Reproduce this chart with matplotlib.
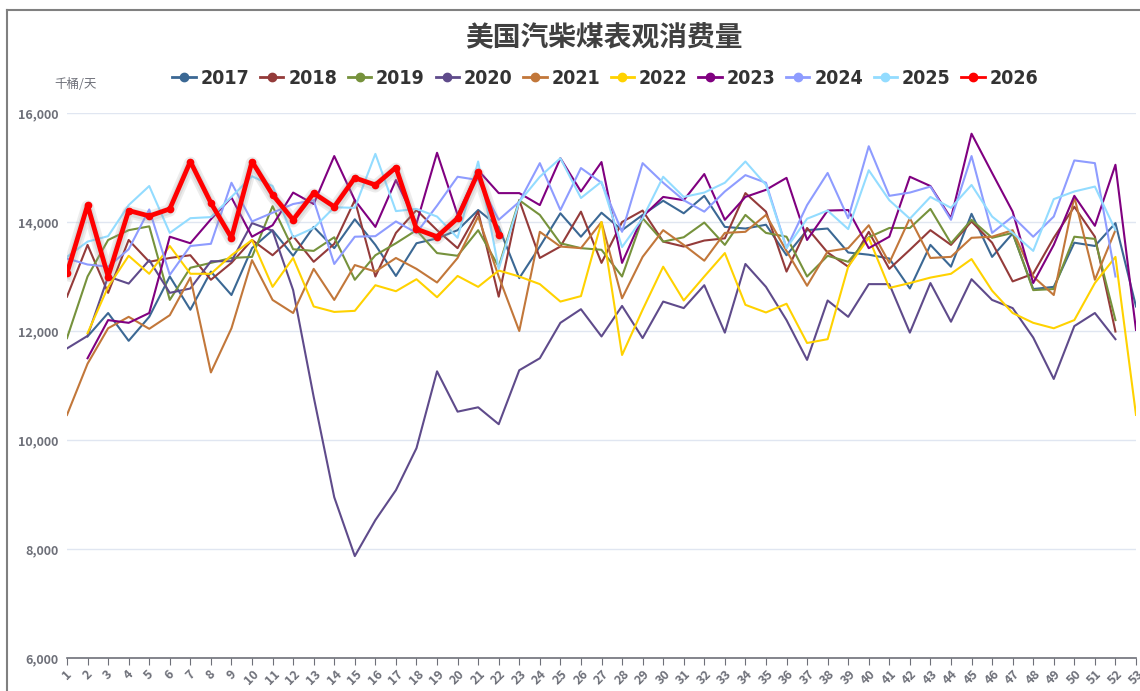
import numpy as np
import matplotlib
matplotlib.use("Agg")
import matplotlib.pyplot as plt
import matplotlib.patheffects as pe
from matplotlib.lines import Line2D

plt.rcParams['font.family'] = ['Noto Sans CJK SC', 'DejaVu Sans']

nan = np.nan
weeks = list(range(1, 54))

y2017 = [nan, 11900, 12330, 11820, 12260, 13000, 12390, 13090, 12660, 13520, 13850, 13380, 13910, 13520, 14050, 13580, 13010, 13610, 13700, 13850, 14220, 13910, 12970, 13550, 14160, 13730, 14170, 13850, 14130, 14390, 14160, 14480, 13910, 13880, 13950, 13390, 13850, 13880, 13440, 13400, 13330, 12780, 13580, 13180, 14150, 13360, 13790, 12770, 12810, 13620, 13560, 13980, 12450]
y2018 = [12630, 13580, 12700, 13670, 13270, 13340, 13390, 12940, 13250, 13670, 13390, 13740, 13270, 13600, 14400, 13000, 13800, 14220, 13850, 13520, 14190, 12630, 14400, 13340, 13550, 14190, 13250, 14000, 14210, 13640, 13550, 13660, 13700, 14530, 14190, 13090, 13890, 13440, 13180, 13820, 13140, 13490, 13850, 13580, 14010, 13620, 12910, 13050, 13710, 14280, 13730, 11990, nan]
y2019 = [11870, 13000, 13670, 13850, 13920, 12570, 13160, 13250, 13340, 13360, 14290, 13500, 13470, 13720, 12940, 13390, 13610, 13850, 13430, 13380, 13850, 13180, 14400, 14130, 13610, 13520, 13490, 13000, 14070, 13640, 13720, 13990, 13580, 14130, 13800, 13730, 13000, 13380, 13270, 13720, 13890, 13890, 14240, 13610, 14040, 13710, 13800, 12750, 12770, 13730, 13690, 12200, nan]
y2020 = [11680, 11910, 13000, 12870, 13300, 12700, 12780, 13280, 13280, 13980, 13840, 12750, 10790, 8950, 7870, 8530, 9080, 9850, 11260, 10520, 10600, 10290, 11280, 11500, 12150, 12400, 11900, 12460, 11870, 12540, 12420, 12840, 11970, 13230, 12810, 12200, 11470, 12560, 12260, 12860, 12860, 11970, 12880, 12170, 12950, 12570, 12420, 11880, 11120, 12090, 12330, 11850, nan]
y2021 = [10460, 11400, 12050, 12260, 12040, 12290, 12980, 11240, 12050, 13300, 12570, 12330, 13140, 12570, 13210, 13090, 13340, 13140, 12890, 13340, 14100, 13000, 12000, 13820, 13550, 13520, 14000, 12600, 13360, 13850, 13580, 13290, 13800, 13820, 14130, 13470, 12830, 13460, 13520, 13940, 13250, 14070, 13340, 13360, 13710, 13730, 13850, 13000, 12660, 14460, 12940, 13850, nan]
y2022 = [nan, 11960, 12810, 13380, 13050, 13560, 13050, 13050, 13390, 13670, 12810, 13340, 12450, 12350, 12370, 12840, 12730, 12950, 12620, 13010, 12810, 13110, 13000, 12860, 12540, 12640, 14000, 11560, 12390, 13180, 12560, 13000, 13430, 12480, 12340, 12500, 11780, 11850, 13180, 13710, 12790, 12880, 12980, 13050, 13320, 12740, 12330, 12150, 12050, 12200, 12880, 13360, 10460]
y2023 = [nan, 11500, 12200, 12150, 12330, 13730, 13610, 14050, 14450, 13730, 13940, 14540, 14330, 15210, 14400, 13910, 14770, 13970, 15270, 14130, 14950, 14530, 14530, 14310, 15170, 14560, 15100, 13250, 14100, 14460, 14400, 14880, 14040, 14460, 14590, 14810, 13670, 14210, 14220, 13520, 13730, 14830, 14660, 14070, 15620, 14900, 14190, 12880, 13580, 14480, 13930, 15050, 12020]
y2024 = [13330, 13220, 13180, 13500, 14230, 13030, 13560, 13600, 14720, 14010, 14170, 14330, 14400, 13230, 13730, 13740, 14010, 13800, 14300, 14830, 14770, 14040, 14370, 15080, 14220, 14990, 14720, 13820, 15080, 14720, 14400, 14190, 14560, 14860, 14720, 13520, 14310, 14900, 14070, 15390, 14480, 14540, 14650, 14040, 15210, 13800, 14100, 13730, 14100, 15130, 15080, 13000, nan]
y2025 = [13360, 13640, 13740, 14310, 14660, 13800, 14070, 14090, 14460, 14840, 14660, 13720, 13890, 14270, 14260, 15250, 14200, 14240, 14100, 13710, 15110, 13140, 14370, 14830, 15170, 14440, 14740, 13540, 14070, 14830, 14460, 14540, 14720, 15110, 14680, 13520, 14060, 14210, 13870, 14950, 14400, 14060, 14460, 14260, 14680, 14100, 13800, 13470, 14420, 14560, 14650, 13850, nan]
y2026 = [13060, 14310, 13000, 14210, 14110, 14240, 15110, 14350, 13710, 15110, 14500, 14040, 14530, 14280, 14810, 14680, 15000, 13870, 13730, 14070, 14910, 13760] + [nan] * 31

years = ['2017', '2018', '2019', '2020', '2021', '2022', '2023', '2024', '2025', '2026']
series = [y2017, y2018, y2019, y2020, y2021, y2022, y2023, y2024, y2025, y2026]
colors = ['#3b6894', '#943b3a', '#76923c', '#5f4b8b', '#c2773a',
          '#ffd200', '#800080', '#8e9cff', '#93dcff', '#ff0000']

fig = plt.figure(figsize=(11.4, 6.91), dpi=100)
ax = fig.add_axes([67 / 1140, 1 - 658 / 691, (1136 - 67) / 1140, (658 - 113) / 691])

for yr, vals, c in zip(years, series, colors):
    if yr == '2026':
        ax.plot(weeks, vals, color=c, lw=3.4, zorder=10, solid_joinstyle='round',
                path_effects=[pe.SimpleLineShadow(offset=(0, -1), shadow_color='#999999', alpha=0.18, linewidth=9),
                              pe.SimpleLineShadow(offset=(0, -1), shadow_color='#999999', alpha=0.2, linewidth=6),
                              pe.Normal()])
        ax.plot(weeks, vals, color=c, lw=0, marker='o', ms=4.5, zorder=11)
    else:
        ax.plot(weeks, vals, color=c, lw=1.5, zorder=3)

ax.set_xlim(1, 53)
ax.set_ylim(6000, 16000)
ax.set_yticks([6000, 8000, 10000, 12000, 14000, 16000])
ax.set_yticklabels(['6,000', '8,000', '10,000', '12,000', '14,000', '16,000'])
ax.set_xticks(weeks)
ax.set_xticklabels([str(w) for w in weeks], rotation=45, ha='center', va='top')
ax.grid(axis='y', color='#e0e6f1', lw=1)
ax.set_axisbelow(True)
for s in ['top', 'right', 'left']:
    ax.spines[s].set_visible(False)
ax.spines['bottom'].set_color('#6e7079')
ax.spines['bottom'].set_linewidth(1.2)
ax.tick_params(axis='y', length=0, labelsize=9, labelcolor='#6e7079', pad=6)
ax.tick_params(axis='x', length=5, color='#6e7079', labelsize=9, labelcolor='#6e7079', pad=2)
for lab in ax.get_xticklabels() + ax.get_yticklabels():
    lab.set_fontweight('bold')

fig.text(0.53, 0.945, '美国汽柴煤表观消费量', ha='center', va='center',
         fontsize=20, fontweight='bold', color='#404040')
fig.text(0.066, 0.877, '千桶/天', ha='center', va='center', fontsize=9, color='#6e7079')

handles = [Line2D([0], [0], color=c, lw=2, marker='o', ms=6) for c in colors]
leg = fig.legend(handles, years, loc='center', bbox_to_anchor=(0.531, 0.887), ncol=10,
                 frameon=False, handlelength=1.2, handletextpad=0.25, columnspacing=0.55,
                 prop={'family': ['DejaVu Sans'], 'stretch': 'condensed', 'weight': 'bold', 'size': 14})
for t in leg.get_texts():
    t.set_color('#333333')

# outer frame
fig.add_artist(Line2D([7 / 1140, 7 / 1140], [0, 1 - 10 / 691], color='#808080', lw=1.5))
fig.add_artist(Line2D([7 / 1140, 1], [1 - 10 / 691, 1 - 10 / 691], color='#808080', lw=1.5))

fig.savefig('out.png', dpi=100)
